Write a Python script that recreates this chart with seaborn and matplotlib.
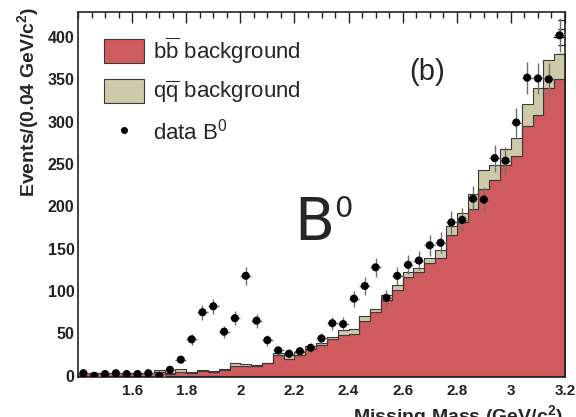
import numpy as np
import pandas as pd
import matplotlib
matplotlib.use("Agg")
import matplotlib.pyplot as plt
import seaborn as sns
from matplotlib.patches import Patch
from matplotlib.lines import Line2D
from matplotlib.ticker import FixedLocator, MultipleLocator

# ---------------- data ----------------
bin_centers = [1.42, 1.46, 1.50, 1.54, 1.58, 1.62, 1.66, 1.70, 1.74, 1.78,
               1.82, 1.86, 1.90, 1.94, 1.98, 2.02, 2.06, 2.10, 2.14, 2.18,
               2.22, 2.26, 2.30, 2.34, 2.38, 2.42, 2.46, 2.50, 2.54, 2.58,
               2.62, 2.66, 2.70, 2.74, 2.78, 2.82, 2.86, 2.90, 2.94, 2.98,
               3.02, 3.06, 3.10, 3.14, 3.18]

bb_background = [3, 3, 3, 3, 3, 3, 3, 4.5, 2.5, 4.5,
                 3.5, 6, 4.5, 7, 12, 11, 11, 15, 24, 19.5,
                 25, 32, 36, 43, 48, 49, 65, 75, 89, 101,
                 116, 122, 133, 139, 166, 182, 197, 221, 231, 249,
                 260, 295, 308, 340, 350]

qq_background = [0, 0, 0, 0, 0, 0, 0, 2, 1, 3.5,
                 1, 0.5, 0.5, 1, 3.5, 2.5, 1.5, 0.5, 3, 5,
                 3.5, 3, 3, 3, 6, 6, 5, 4, 6, 6,
                 7, 5, 6, 9, 11, 10, 18, 22, 18, 19,
                 21, 26, 32, 33, 30]

data_B0 = [3, 0, 2, 3, 2, 2, 3, 0, 7, 19,
           43, 75, 82, 52, 68, 118, 65, 42, 30, 26,
           29, 33, 44, 62, 61, 91, 106, 128, 92, 118,
           131, 136, 154, 157, 181, 184, 209, 208, 257, 254,
           299, 352, 351, 350, 402]

x_tick_values = [1.6, 1.8, 2.0, 2.2, 2.4, 2.6, 2.8, 3.0, 3.2]
x_tick_labels = ["1.6", "1.8", "2", "2.2", "2.4", "2.6", "2.8", "3", "3.2"]
y_tick_values = [0, 50, 100, 150, 200, 250, 300, 350, 400]

legend_labels = [r"b$\overline{\rm b}$ background",
                 r"q$\overline{\rm q}$ background",
                 r"data B$^{\rm 0}$"]

# ---------------- style ----------------
sns.set_style("white")
plt.rcParams["font.family"] = ["Liberation Sans", "DejaVu Sans"]
plt.rcParams["mathtext.fontset"] = "custom"
plt.rcParams["mathtext.rm"] = "Liberation Sans"
plt.rcParams["mathtext.bf"] = "Liberation Sans:bold"
plt.rcParams["mathtext.it"] = "Liberation Sans:italic"

RED = "#CF5B5E"
BEIGE = "#CDC9A9"
EDGE = "#3a3a3a"

W, H = 576, 417
fig = plt.figure(figsize=(W / 100, H / 100), dpi=100)
ax = fig.add_axes([78 / W, 1 - 377 / H, 487 / W, 365 / H])

# ---------------- stacked histogram ----------------
df = pd.DataFrame({
    "mass": bin_centers + bin_centers,
    "events": bb_background + qq_background,
    "component": ["bb"] * len(bin_centers) + ["qq"] * len(bin_centers),
})
sns.histplot(data=df, x="mass", weights="events", hue="component",
             hue_order=["qq", "bb"], multiple="stack",
             binwidth=0.04, binrange=(1.40, 3.20),
             element="step", palette={"bb": RED, "qq": BEIGE}, alpha=1,
             edgecolor=EDGE, linewidth=0.8, legend=False, ax=ax)

# ---------------- data points ----------------
d = np.array(data_B0, dtype=float)
ax.errorbar(bin_centers, d, yerr=np.sqrt(d), xerr=0.02, fmt="none",
            ecolor="#707070", elinewidth=1.0, capsize=0, zorder=3)
sns.scatterplot(x=bin_centers, y=data_B0, color="black", s=34,
                edgecolor="none", zorder=4, ax=ax)

# ---------------- axes ----------------
ax.set_xlim(1.40, 3.20)
ax.set_ylim(-1.5, 429.5)
ax.set_xlabel("")
ax.set_ylabel("")
ax.xaxis.set_major_locator(FixedLocator(x_tick_values))
ax.set_xticklabels(x_tick_labels)
ax.xaxis.set_minor_locator(MultipleLocator(0.05))
ax.yaxis.set_major_locator(FixedLocator(y_tick_values))
ax.yaxis.set_minor_locator(MultipleLocator(10))
ax.tick_params(axis="both", which="both", direction="in", top=True,
               right=True, colors="#222222", width=1.0)
ax.tick_params(axis="y", which="major", length=9, pad=2.5)
ax.tick_params(axis="y", which="minor", length=5)
ax.tick_params(axis="x", which="major", length=8, pad=5)
ax.tick_params(axis="x", which="minor", length=4)
for lab in ax.get_xticklabels():
    lab.set_fontweight("bold")
    lab.set_fontsize(11)
for lab in ax.get_yticklabels():
    lab.set_fontweight("bold")
    lab.set_fontsize(11.5)
for sp in ax.spines.values():
    sp.set_color("#222222")
    sp.set_linewidth(1.2)

# ---------------- legend ----------------
handles = [Patch(facecolor=RED, edgecolor=EDGE, linewidth=0.8),
           Patch(facecolor=BEIGE, edgecolor=EDGE, linewidth=0.8),
           Line2D([], [], linestyle="none", marker="o", color="black",
                  markersize=4)]
ax.legend(handles, legend_labels, loc="upper left",
          bbox_to_anchor=((104 - 78) / 487, (377 - 35) / 365),
          frameon=False, fontsize=16, handlelength=1.8, handleheight=1.25,
          handletextpad=0.4, labelspacing=0.6, borderpad=0,
          borderaxespad=0)

# ---------------- annotations ----------------
fig.text(427 / W, 1 - 71.5 / H, "(b)", fontsize=21, ha="center",
         va="center")
fig.text(294 / W, 1 - 240 / H, "B", fontsize=42, ha="left",
         va="baseline", family="DejaVu Sans")
fig.text(334 / W, 1 - 217 / H, "0", fontsize=21, ha="left",
         va="baseline", family="DejaVu Sans")

fig.text(28.5 / W, 1 - 7 / H, r"Events/(0.04 GeV/c$^{\mathbf{2}}$)",
         rotation=90, ha="center", va="top", fontweight="bold",
         fontsize=14)
fig.text(563 / W, 1 - 422 / H, r"Missing Mass (GeV/c$^{\mathbf{2}}$)",
         ha="right", va="baseline", fontweight="bold", fontsize=14)

fig.savefig("out.png", dpi=100)
